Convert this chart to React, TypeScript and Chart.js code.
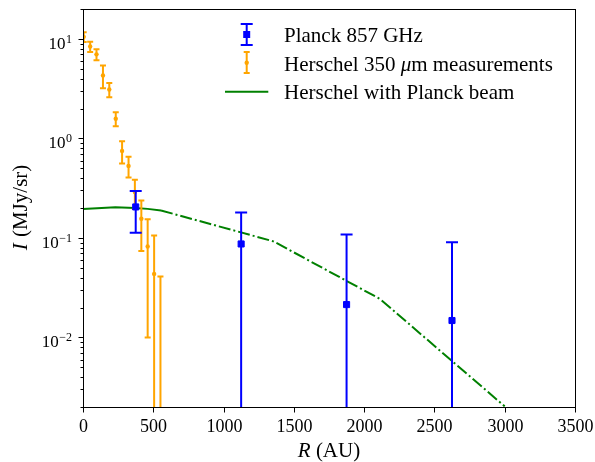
import React, { useEffect, useRef } from 'react';
import { Chart, registerables } from 'chart.js';

Chart.register(...registerables);

// ---- data ----
const planckR = [375, 1125, 1875, 2625];
const planckI = [0.205, 0.087, 0.0214, 0.0148];
const planckErr = [0.092, 0.093, 0.087, 0.0755];

const herschelR = [5, 51, 96, 142, 187, 233, 278, 324, 369, 415, 460, 506, 551];
const herschelI = [10.5, 8.4, 7.0, 4.3, 3.1, 1.58, 0.75, 0.53, 0.29, 0.156, 0.082, 0.0435, -0.02];
const herschelErr = [1.2, 1.0, 0.9, 1.1, 0.5, 0.25, 0.19, 0.125, 0.095, 0.082, 0.072, 0.0625, 0.061];

const beamR = [0, 100, 230, 370, 460, 555];
const beamI = [0.195, 0.199, 0.203, 0.2, 0.196, 0.189];
const extrapR = [555, 1354, 2112, 3000];
const extrapI = [0.189, 0.0925, 0.0244, 0.00203];

const xTicks = [0, 500, 1000, 1500, 2000, 2500, 3000, 3500];
const yMajorTicks = [0.01, 0.1, 1, 10];
const yMajorExp = ['−2', '−1', '0', '1'];

const legendLabels = ['Planck 857 GHz', 'Herschel 350 ', 'μ', 'm measurements', 'Herschel with Planck beam'];

const FONT = '"Liberation Serif", "Times New Roman", serif';
const BLUE = '#0000ff';
const ORANGE = '#ffa500';
const GREEN = '#008000';

const drawPlugin = {
  id: 'customDraw',
  beforeDatasetDraw(chart: any, args: any) {
    const ds = chart.data.datasets[args.index];
    if (!ds.errVals) return;
    const ctx = chart.ctx;
    const a = chart.chartArea;
    const xs = chart.scales.x;
    const ys = chart.scales.y;
    ctx.save();
    ctx.beginPath();
    ctx.rect(a.left, a.top, a.right - a.left, a.bottom - a.top);
    ctx.clip();
    ctx.strokeStyle = ds.borderColor;
    ctx.lineWidth = ds.errWidth;
    for (let i = 0; i < ds.errVals.length; i++) {
      const x = xs.getPixelForValue(ds.errX[i]);
      const v = ds.errVals[i];
      const e = ds.errs[i];
      const hi = v + e;
      const lo = v - e;
      const yTop = ys.getPixelForValue(hi);
      const yBot = lo > 0 ? ys.getPixelForValue(lo) : a.bottom + 30;
      ctx.beginPath();
      ctx.moveTo(x, yTop);
      ctx.lineTo(x, yBot);
      ctx.moveTo(x - ds.capHalf, yTop);
      ctx.lineTo(x + ds.capHalf, yTop);
      if (lo > 0) {
        ctx.moveTo(x - ds.capHalf, yBot);
        ctx.lineTo(x + ds.capHalf, yBot);
      }
      ctx.stroke();
    }
    ctx.restore();
  },
  afterDraw(chart: any) {
    const ctx = chart.ctx;
    const a = chart.chartArea;
    const xs = chart.scales.x;
    const ys = chart.scales.y;
    ctx.save();
    // frame
    ctx.strokeStyle = '#000';
    ctx.lineWidth = 1;
    const L = Math.round(a.left) + 0.5;
    const R = Math.round(a.right) + 0.5;
    const T = Math.round(a.top) + 0.5;
    const B = Math.round(a.bottom) + 0.5;
    ctx.strokeRect(L, T, R - L, B - T);
    // x ticks
    ctx.fillStyle = '#000';
    ctx.font = `18px ${FONT}`;
    ctx.textAlign = 'center';
    ctx.textBaseline = 'alphabetic';
    for (const t of xTicks) {
      const x = Math.round(xs.getPixelForValue(t)) + 0.5;
      ctx.beginPath();
      ctx.moveTo(x, B);
      ctx.lineTo(x, B + 5);
      ctx.stroke();
      ctx.fillText(String(t), x, B + 24.5);
    }
    // y minor ticks
    for (let d = -3; d <= 1; d++) {
      for (let m = 2; m <= 9; m++) {
        const v = m * Math.pow(10, d);
        if (v < ys.min || v > ys.max) continue;
        const y = Math.round(ys.getPixelForValue(v)) + 0.5;
        ctx.beginPath();
        ctx.moveTo(L, y);
        ctx.lineTo(L - 3, y);
        ctx.stroke();
      }
    }
    // y major ticks + labels
    yMajorTicks.forEach((v, i) => {
      const y = Math.round(ys.getPixelForValue(v)) + 0.5;
      ctx.beginPath();
      ctx.moveTo(L, y);
      ctx.lineTo(L - 5, y);
      ctx.stroke();
      const exp = yMajorExp[i];
      ctx.font = `12px ${FONT}`;
      const ew = ctx.measureText(exp).width;
      const right = 72;
      ctx.textAlign = 'right';
      ctx.fillText(exp, right, y + 3);
      ctx.font = `17px ${FONT}`;
      ctx.fillText('10', right - ew - 0.5, y + 9);
    });
    // x axis label
    ctx.textAlign = 'left';
    ctx.font = `italic 21px ${FONT}`;
    const rW = ctx.measureText('R').width;
    ctx.font = `21px ${FONT}`;
    const restX = ' (AU)';
    const restW = ctx.measureText(restX).width;
    const cx = (a.left + a.right) / 2;
    const sx = cx - (rW + restW) / 2;
    ctx.font = `italic 21px ${FONT}`;
    ctx.fillText('R', sx, 457);
    ctx.font = `21px ${FONT}`;
    ctx.fillText(restX, sx + rW, 457);
    // y axis label
    ctx.save();
    ctx.translate(27, (a.top + a.bottom) / 2);
    ctx.rotate(-Math.PI / 2);
    ctx.font = `italic 21px ${FONT}`;
    const iW = ctx.measureText('I').width;
    ctx.font = `21px ${FONT}`;
    const restY = ' (MJy/sr)';
    const restYW = ctx.measureText(restY).width;
    const sy = -(iW + restYW) / 2;
    ctx.font = `italic 21px ${FONT}`;
    ctx.fillText('I', sy, 0);
    ctx.font = `21px ${FONT}`;
    ctx.fillText(restY, sy + iW + 1, 0);
    ctx.restore();

    // legend
    const mx = 246.7;
    // Planck
    ctx.strokeStyle = BLUE;
    ctx.lineWidth = 2;
    ctx.beginPath();
    ctx.moveTo(mx, 24);
    ctx.lineTo(mx, 45);
    ctx.moveTo(mx - 6, 24);
    ctx.lineTo(mx + 6, 24);
    ctx.moveTo(mx - 6, 45);
    ctx.lineTo(mx + 6, 45);
    ctx.stroke();
    ctx.fillStyle = BLUE;
    ctx.fillRect(mx - 3.5, 34.5 - 3.5, 7, 7);
    // Herschel
    ctx.strokeStyle = ORANGE;
    ctx.beginPath();
    ctx.moveTo(mx, 52);
    ctx.lineTo(mx, 73);
    ctx.moveTo(mx - 3, 52);
    ctx.lineTo(mx + 3, 52);
    ctx.moveTo(mx - 3, 73);
    ctx.lineTo(mx + 3, 73);
    ctx.stroke();
    ctx.fillStyle = ORANGE;
    ctx.beginPath();
    ctx.arc(mx, 62.7, 2.2, 0, Math.PI * 2);
    ctx.fill();
    // Green line
    ctx.strokeStyle = GREEN;
    ctx.beginPath();
    ctx.moveTo(225, 91.7);
    ctx.lineTo(268.3, 91.7);
    ctx.stroke();
    // texts
    ctx.fillStyle = '#000';
    ctx.textAlign = 'left';
    const tx = 284;
    ctx.font = `21px ${FONT}`;
    ctx.fillText(legendLabels[0], tx, 42);
    let px = tx;
    ctx.fillText(legendLabels[1], px, 71);
    px += ctx.measureText(legendLabels[1]).width;
    ctx.font = `italic 21px ${FONT}`;
    ctx.fillText(legendLabels[2], px, 71);
    px += ctx.measureText(legendLabels[2]).width;
    ctx.font = `21px ${FONT}`;
    ctx.fillText(legendLabels[3], px, 71);
    ctx.fillText(legendLabels[4], tx, 98.5);
    ctx.restore();
  },
};

export default function App() {
  const ref = useRef<HTMLCanvasElement | null>(null);
  useEffect(() => {
    if (!ref.current) return;
    const chart = new Chart(ref.current, {
      type: 'scatter',
      data: {
        datasets: [
          {
            label: 'Planck 857 GHz',
            data: planckR.map((r, i) => ({ x: r, y: planckI[i] })),
            pointStyle: 'rect',
            pointRadius: 4.3,
            pointBorderWidth: 1,
            backgroundColor: BLUE,
            borderColor: BLUE,
            order: 1,
            errX: planckR,
            errVals: planckI,
            errs: planckErr,
            errWidth: 2,
            capHalf: 6,
          } as any,
          {
            label: 'Herschel 350 μm measurements',
            data: herschelR.map((r, i) => ({ x: r, y: herschelI[i] })),
            pointStyle: 'circle',
            pointRadius: 2.2,
            pointBorderWidth: 0,
            backgroundColor: ORANGE,
            borderColor: ORANGE,
            order: 2,
            errX: herschelR,
            errVals: herschelI,
            errs: herschelErr,
            errWidth: 2,
            capHalf: 3,
          } as any,
          {
            label: 'Herschel with Planck beam',
            data: beamR.map((r, i) => ({ x: r, y: beamI[i] })),
            showLine: true,
            borderColor: GREEN,
            borderWidth: 2,
            pointRadius: 0,
            order: 3,
          },
          {
            label: 'extrapolation',
            data: extrapR.map((r, i) => ({ x: r, y: extrapI[i] })),
            showLine: true,
            borderColor: GREEN,
            borderWidth: 2,
            borderDash: [12, 3, 2, 3],
            pointRadius: 0,
            order: 4,
          },
        ],
      },
      options: {
        animation: false,
        responsive: false,
        layout: { padding: { top: 9, right: 20, left: 0, bottom: 0 } },
        plugins: { legend: { display: false }, tooltip: { enabled: false } },
        scales: {
          x: {
            type: 'linear',
            min: 0,
            max: 3500,
            grid: { display: false },
            border: { display: false },
            ticks: { display: false },
            afterFit: (s: any) => {
              s.height = 55;
            },
          },
          y: {
            type: 'logarithmic',
            min: 0.002,
            max: 20,
            grid: { display: false },
            border: { display: false },
            ticks: { display: false },
            afterFit: (s: any) => {
              s.width = 83;
            },
          },
        },
      },
      plugins: [drawPlugin],
    });
    return () => chart.destroy();
  }, []);
  return (
    <div style={{ position: 'fixed', left: 0, top: 0, width: 595, height: 462, background: '#fff' }}>
      <canvas ref={ref} width={595} height={462} />
    </div>
  );
}
